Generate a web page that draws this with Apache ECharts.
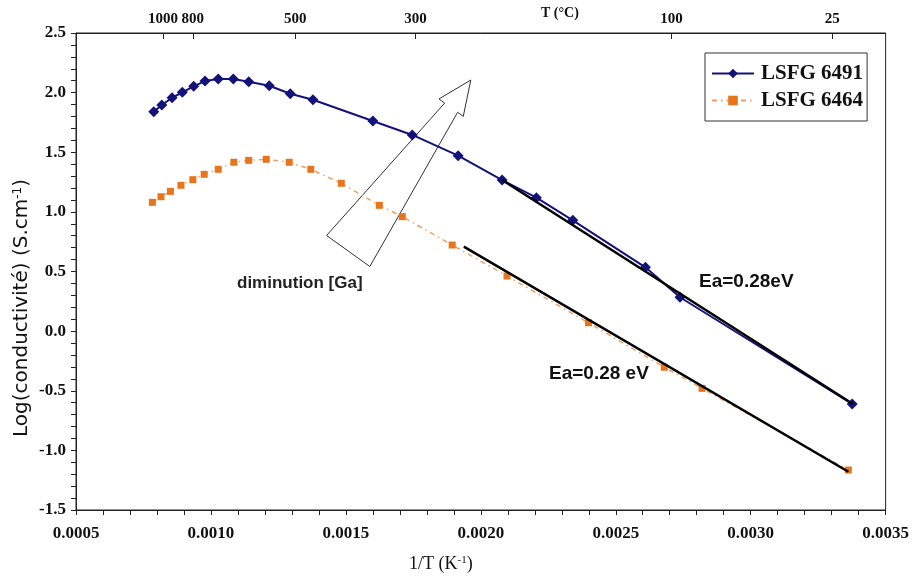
<!DOCTYPE html>
<html>
<head>
<meta charset="utf-8">
<script src="https://cdn.jsdelivr.net/npm/echarts@6/dist/echarts.min.js"></script>
<style>
  html, body { margin: 0; padding: 0; background: #fff; }
  #chart { width: 912px; height: 580px; }
</style>
</head>
<body>
<div id="chart"></div>
<script>
// LSFG 6491 (bleu, losanges)
var x6491 = [0.000788, 0.000818, 0.000856, 0.000894, 0.000936, 0.000978, 0.001027, 0.001083, 0.00114, 0.001216,
  0.001294, 0.001378, 0.0016, 0.001746, 0.001916, 0.002079, 0.002206, 0.002341, 0.00261, 0.002738, 0.003376]
var y6491 = [1.84, 1.896, 1.957, 2.003, 2.053, 2.097, 2.114, 2.114, 2.092, 2.058,
  1.991, 1.94, 1.762, 1.645, 1.471, 1.267, 1.119, 0.929, 0.535, 0.284, -0.611]

// LSFG 6464 (orange, carrés)
var x6464 = [0.000783, 0.000815, 0.00085, 0.000889, 0.000933, 0.000975, 0.001027, 0.001085, 0.00114, 0.001205,
  0.00129, 0.00137, 0.001483, 0.001624, 0.001709, 0.001894, 0.002097, 0.002399, 0.00268, 0.00282, 0.003362]
var y6464 = [1.08, 1.127, 1.172, 1.223, 1.27, 1.315, 1.357, 1.416, 1.432, 1.441,
  1.416, 1.357, 1.24, 1.055, 0.96, 0.722, 0.462, 0.07, -0.303, -0.48, -1.165]

// droites d'Arrhenius (Ea = 0.28 eV)
var fitX6491 = [0.002079, 0.003379]
var fitY6491 = [1.267, -0.611]
var fitX6464 = [0.001937, 0.003362]
var fitY6464 = [0.708, -1.179]

// axe du haut : T (°C)
var tempTickPos = [0.000822, 0.000933, 0.001312, 0.001758, 0.002707, 0.003302]
var tempTickLabels = ['1000', '800', '500', '300', '100', '25']

// flèche "diminution [Ga]" en coordonnées des axes
var arrowX = [0.0014285, 0.0015888, 0.001914, 0.001935, 0.001963, 0.001845, 0.001866]
var arrowY = [0.802, 0.542, 1.835, 1.801, 2.106, 1.947, 1.912]

function pairs (xs, ys) {
  var out = []
  for (var i = 0; i < xs.length; i++) {
    out.push([xs[i], ys[i]])
  }
  return out
}

var tickFont = { fontFamily: 'Liberation Serif', fontWeight: 'bold', fontSize: 17, color: '#111' }
var boldSans = { fontFamily: 'Liberation Sans', fontWeight: 'bold', fontSize: 19, fill: '#111', textVerticalAlign: 'middle' }

var myChart = echarts.init(document.getElementById('chart'))
var option = {
  backgroundColor: '#fff',
  animation: false,
  grid: {
    left: 76, right: 24, top: 33, bottom: 70,
    show: true, borderColor: '#222', borderWidth: 1
  },
  legend: {
    data: ['LSFG 6491', 'LSFG 6464'],
    orient: 'vertical',
    left: 705,
    top: 53,
    padding: [10, 4, 10, 6],
    itemGap: 6,
    itemWidth: 42,
    itemHeight: 12,
    borderColor: '#333',
    borderWidth: 1,
    backgroundColor: '#fff',
    textStyle: { fontFamily: 'Liberation Serif', fontWeight: 'bold', fontSize: 21, color: '#111', padding: [0, 0, 0, 2] }
  },
  xAxis: [
    {
      type: 'value',
      min: 0.0005,
      max: 0.0035,
      interval: 0.0005,
      position: 'bottom',
      splitLine: { show: false },
      axisLine: { onZero: false, lineStyle: { color: '#222' } },
      axisTick: { inside: false, length: 5, lineStyle: { color: '#222' } },
      minorTick: { show: true, splitNumber: 5, length: 5, lineStyle: { color: '#222' } },
      axisLabel: Object.assign({ margin: 15, formatter: function (v) { return v.toFixed(4) } }, tickFont)
    },
    {
      type: 'value',
      min: 0.0005,
      max: 0.0035,
      position: 'top',
      splitLine: { show: false },
      axisLine: { onZero: false, lineStyle: { color: '#222' } },
      axisTick: { inside: true, length: 6, customValues: tempTickPos, lineStyle: { color: '#222' } },
      axisLabel: Object.assign({
        margin: 6,
        customValues: tempTickPos,
        formatter: function (v) {
          var best = 0
          for (var i = 0; i < tempTickPos.length; i++) {
            if (Math.abs(tempTickPos[i] - v) < Math.abs(tempTickPos[best] - v)) best = i
          }
          return tempTickLabels[best]
        }
      }, tickFont, { fontSize: 15 })
    }
  ],
  yAxis: {
    type: 'value',
    min: -1.5,
    max: 2.5,
    interval: 0.5,
    splitLine: { show: false },
    axisLine: { show: true, onZero: false, lineStyle: { color: '#222' } },
    axisTick: { show: true, inside: false, length: 5, lineStyle: { color: '#222' } },
    minorTick: { show: true, splitNumber: 5, length: 5, lineStyle: { color: '#222' } },
    axisLabel: Object.assign({ margin: 10, formatter: function (v) { return v.toFixed(1) } }, tickFont)
  },
  series: [
    {
      name: 'LSFG 6491',
      type: 'line',
      data: pairs(x6491, y6491),
      symbol: 'diamond',
      symbolSize: 11,
      itemStyle: { color: '#12127a' },
      lineStyle: { color: '#12127a', width: 2 },
      z: 3
    },
    {
      name: 'LSFG 6464',
      type: 'line',
      data: pairs(x6464, y6464),
      symbol: 'rect',
      symbolSize: 7,
      itemStyle: { color: '#e8741c' },
      lineStyle: { color: '#f0a060', width: 1.5, type: [5, 4, 1.5, 4] },
      z: 3
    },
    {
      name: 'fit6491',
      type: 'line',
      data: pairs(fitX6491, fitY6491),
      symbol: 'none',
      lineStyle: { color: '#000', width: 2.5 },
      z: 4
    },
    {
      name: 'fit6464',
      type: 'line',
      data: pairs(fitX6464, fitY6464),
      symbol: 'none',
      lineStyle: { color: '#000', width: 2.5 },
      z: 4
    },
    {
      // flèche creuse
      name: 'arrow',
      type: 'custom',
      silent: true,
      data: [[arrowX[0], arrowY[0]]],
      z: 2,
      renderItem: function (params, api) {
        var pts = []
        for (var i = 0; i < arrowX.length; i++) {
          pts.push(api.coord([arrowX[i], arrowY[i]]))
        }
        return {
          type: 'polygon',
          shape: { points: pts },
          style: { fill: 'rgba(255,255,255,0)', stroke: '#333', lineWidth: 1 }
        }
      }
    }
  ],
  graphic: [
    {
      type: 'text', left: 541, top: 6,
      style: { text: 'T (°C)', fontFamily: 'Liberation Serif', fontWeight: 'bold', fontSize: 14, fill: '#111' }
    },
    {
      type: 'text', x: 22, y: 308, rotation: Math.PI / 2,
      style: {
        text: 'Log(conductivité) (S.cm{sup|-1})',
        fontFamily: 'DejaVu Sans', fontSize: 20, fill: '#111',
        align: 'center', verticalAlign: 'middle',
        rich: { sup: { fontFamily: 'DejaVu Sans', fontSize: 12, verticalAlign: 'top', padding: [0, 0, 9, 0], fill: '#111' } }
      }
    },
    {
      type: 'text', x: 237, y: 283,
      style: Object.assign({}, boldSans, { text: 'diminution [Ga]', fontSize: 17, fill: '#222' })
    },
    {
      type: 'text', x: 699, y: 282,
      style: Object.assign({}, boldSans, { text: 'Ea=0.28eV' })
    },
    {
      type: 'text', x: 549, y: 374,
      style: Object.assign({}, boldSans, { text: 'Ea=0.28 eV' })
    },
    {
      type: 'text', left: 409, top: 555,
      style: {
        text: '1/T (K{sup|-1})',
        fontFamily: 'Liberation Sans Narrow', fontSize: 18, fill: '#111',
        rich: { sup: { fontFamily: 'Liberation Sans Narrow', fontSize: 11, verticalAlign: 'top', padding: [0, 0, 8, 0], fill: '#111' } }
      }
    }
  ]
}
myChart.setOption(option, true)
window.addEventListener('resize', function () {
  if (myChart) myChart.resize()
})
</script>
</body>
</html>
